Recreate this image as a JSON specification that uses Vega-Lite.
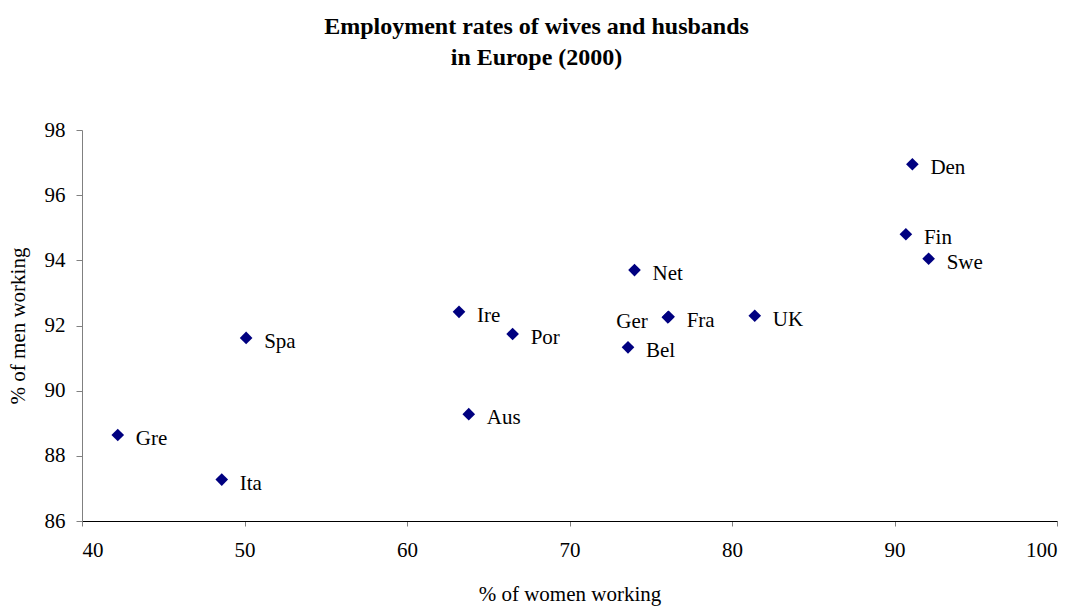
{
  "$schema": "https://vega.github.io/schema/vega-lite/v6.json",
  "width": 975,
  "height": 391,
  "autosize": "none",
  "padding": {"left": 82, "top": 130, "right": 21, "bottom": 87},
  "background": "white",
  "config": {
    "view": {"stroke": null},
    "font": "Liberation Serif"
  },
  "title": {
    "text": ["Employment rates of wives and husbands", "in Europe (2000)"],
    "font": "Liberation Serif",
    "fontSize": 24,
    "fontWeight": "bold",
    "color": "#000000",
    "anchor": "middle",
    "dx": -33,
    "offset": 49,
    "lineHeight": 31
  },
  "data": {
    "values": [
      {"country": "Den", "women": 91.1, "men": 96.95},
      {"country": "Fin", "women": 90.7, "men": 94.8},
      {"country": "Swe", "women": 92.1, "men": 94.05},
      {"country": "Net", "women": 74.0, "men": 93.7},
      {"country": "Ger", "women": 76.05, "men": 92.25},
      {"country": "Fra", "women": 76.1, "men": 92.27},
      {"country": "UK", "women": 81.4, "men": 92.3},
      {"country": "Bel", "women": 73.6, "men": 91.33},
      {"country": "Ire", "women": 63.2, "men": 92.42},
      {"country": "Por", "women": 66.5, "men": 91.74},
      {"country": "Spa", "women": 50.1, "men": 91.62},
      {"country": "Aus", "women": 63.8, "men": 89.28},
      {"country": "Gre", "women": 42.2, "men": 88.64},
      {"country": "Ita", "women": 48.6, "men": 87.27}
    ]
  },
  "encoding": {
    "x": {
      "field": "women", "type": "quantitative",
      "scale": {"domain": [40, 100], "nice": false, "zero": false},
      "axis": {
        "title": "% of women working",
        "values": [40, 50, 60, 70, 80, 90, 100],
        "grid": false,
        "domainColor": "#000000",
        "tickColor": "#808080",
        "tickSize": 5,
        "labelFont": "Liberation Serif",
        "labelFontSize": 21,
        "labelColor": "#000000",
        "labelPadding": 13,
        "titleFont": "Liberation Serif",
        "titleFontSize": 21,
        "titleFontWeight": "normal",
        "titleColor": "#000000",
        "titlePadding": 23
      }
    },
    "y": {
      "field": "men", "type": "quantitative",
      "scale": {"domain": [86, 98], "nice": false, "zero": false},
      "axis": {
        "title": "% of men working",
        "values": [86, 88, 90, 92, 94, 96, 98],
        "grid": false,
        "domainColor": "#808080",
        "tickColor": "#808080",
        "tickSize": 6,
        "labelFont": "Liberation Serif",
        "labelFontSize": 21,
        "labelColor": "#000000",
        "labelPadding": 11,
        "titleFont": "Liberation Serif",
        "titleFontSize": 21,
        "titleFontWeight": "normal",
        "titleColor": "#000000",
        "titlePadding": 16
      }
    }
  },
  "layer": [
    {
      "mark": {"type": "point", "shape": "diamond", "filled": true, "color": "#000080", "size": 160, "opacity": 1}
    },
    {
      "transform": [{"filter": "datum.country != 'Ger'"}],
      "mark": {"type": "text", "align": "left", "baseline": "alphabetic", "dx": 18, "dy": 10, "font": "Liberation Serif", "fontSize": 21, "color": "#000000"},
      "encoding": {"text": {"field": "country"}}
    },
    {
      "transform": [{"filter": "datum.country == 'Ger'"}],
      "mark": {"type": "text", "align": "right", "baseline": "alphabetic", "dx": -20, "dy": 11, "font": "Liberation Serif", "fontSize": 21, "color": "#000000"},
      "encoding": {"text": {"field": "country"}}
    }
  ]
}
